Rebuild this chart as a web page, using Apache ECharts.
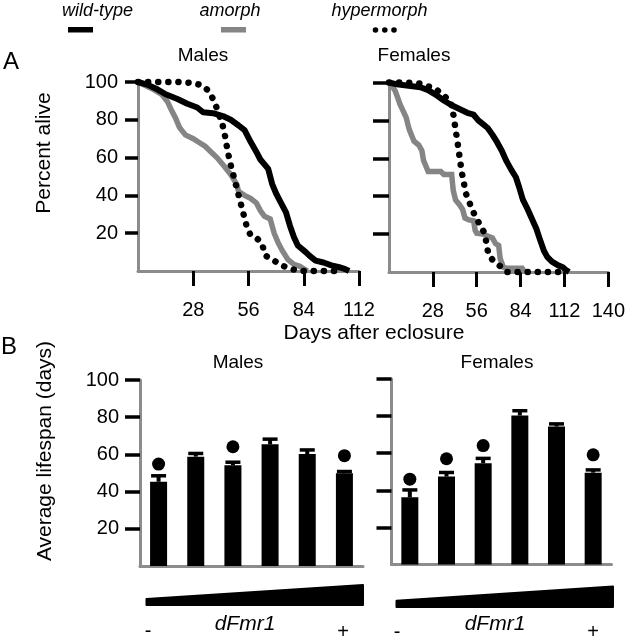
<!DOCTYPE html>
<html>
<head>
<meta charset="utf-8">
<script src="https://cdn.jsdelivr.net/npm/echarts@6/dist/echarts.min.js"></script>
<style>
html,body{margin:0;padding:0;background:#fff;}
#chart{width:628px;height:639px;}
</style>
</head>
<body>
<div id="chart"></div>
<script>
// ---------- DATA ----------
// Panel A: survival curves [day, percent alive]
const maleWildType = [[0,100],[5,98.5],[10,96],[14,93.5],[20,91],[25,88.5],[30,86.5],[33,84],[38,83.5],[43,82],[47,80],[51,77],[54,74.5],[57,68.5],[60,63],[62,59],[66,54],[68,46],[70,41],[72,37],[75,31],[77,24],[79,18],[81,13.5],[85,10],[87,8],[90,5.5],[94,4.5],[98,3],[102,2],[105,1],[107,0]];
const maleAmorph = [[0,100],[4,98],[8,96],[12,93.5],[15,89.5],[17,85],[19,81],[21,76],[24,72],[28,70],[31,68],[34,66],[37,63],[40,60],[44,55],[47,51],[50,46],[51,42],[54,40],[57,38.5],[60,36],[62,32],[64,29],[67,27.5],[69,20],[71,15],[73,11],[76,6],[79,3.5],[82,2.5],[85,0.5],[86,0]];
const maleHypermorph = [[0,100],[10,100],[20,100],[28,99.5],[33,98],[36,95],[38,91],[40,86],[42,80],[43.5,75],[45,66],[46.5,58],[48,52],[50,44],[51.5,38],[53,32],[55,24],[57,19],[60,17.5],[63,14.5],[64,9],[66,7],[69,5.5],[72,3.5],[76,1.5],[80,0.5],[82,0],[104,0]];
const femaleWildType = [[0,100],[5,99],[10,98.5],[20,97.5],[25,96],[30,93.5],[35,90.5],[40,88],[45,86],[50,84],[54,83],[57,80],[60,78],[63,76],[66,72.5],[69,68.5],[72,64],[75,58.5],[78,54],[81,50],[83,45],[85.5,38],[88,34],[91,28.5],[94,23],[96,18],[99,11],[101,8],[104,5.5],[108,3.5],[111,2.5],[113,1],[115,0]];
const femaleAmorph = [[0,100],[2,98],[4,95.5],[6,91],[7,88.5],[9,85],[11,81.5],[12,78],[13,75],[15,71],[16,69],[19,67],[21,64],[22,59],[24,55],[25,53],[33,53],[35,51.5],[40,51.5],[41,43],[42.5,38],[45,35.5],[47,33],[48.5,28.5],[51,27.5],[54,27],[55,22],[56,20.5],[60,20],[61,19],[66,18],[68,15],[70,14],[71,7],[73,2.5],[75,2],[85,2],[86.5,0]];
const femaleHypermorph = [[0,100],[10,100],[20,99.5],[25,98],[30,96.5],[34,93.5],[39,90.5],[40.5,86],[41.5,81],[42.5,75],[43.5,70],[44.5,64],[45.5,58],[46.5,52.5],[47.8,47],[48.8,42],[51,37.5],[53,33],[56,28],[58,25],[61,20.5],[62.5,14],[63.5,9],[66,6.5],[69,4.5],[72,2.3],[75,0],[114,0]];

const maleDayTicks = [28,56,84,112];
const femaleDayTicks = [28,56,84,112,140];
const percentTicks = [20,40,60,80,100];

// Panel B: average lifespan (days) for increasing dFmr1 dosage
const doseLevels = ['d1','d2','d3','d4','d5','d6'];
const maleMeans   = [45.3, 58.8, 54.1, 65.4, 60.2, 49.8];
const maleUpper   = [48.5, 60.5, 55.8, 68.2, 62.4, 50.8];
const maleSig     = [54.8, null, 64.1, null, null, 59.3];
const femaleMeans = [36.2, 47.4, 54.6, 80.3, 74.4, 49.5];
const femaleUpper = [40.2, 49.6, 57.2, 82.9, 75.8, 51.0];
const femaleSig   = [46, 57, 64.1, null, null, 59.1];
const wedgeThickness = [0.3, 1];   // relative thickness at low / high dosage

// ---------- STYLE ----------
const FONT = "'Liberation Sans', Arial, sans-serif";
const GREY_AXIS = '#8c8c8c';
const GREY_LINE = '#858585';

function valueAxisX(grid, max, ticks){
  return {
    type:'value', gridIndex:grid, min:0, max:max, interval:28,
    axisLine:{show:true, lineStyle:{color:GREY_AXIS, width:3}},
    axisTick:{show:true, length:15, customValues:ticks, lineStyle:{color:'#000', width:3}},
    axisLabel:{show:true, customValues:ticks, fontSize:20, color:'#000', fontFamily:FONT, margin:29},
    splitLine:{show:false}
  };
}
function valueAxisY(grid, showLabels, tickLen, margin){
  return {
    type:'value', gridIndex:grid, min:0, max:100, interval:20,
    axisLine:{show:true, lineStyle:{color:GREY_AXIS, width:3}},
    axisTick:{show:true, length:tickLen, customValues:percentTicks, lineStyle:{color:'#000', width:3.5}},
    axisLabel:{show:showLabels, customValues:percentTicks, fontSize:20, color:'#000', fontFamily:FONT, margin:margin},
    splitLine:{show:false}
  };
}
function catAxis(grid){
  return {
    type:'category', gridIndex:grid, data:doseLevels,
    axisLine:{show:true, lineStyle:{color:GREY_AXIS, width:3}},
    axisTick:{show:false}, axisLabel:{show:false}, splitLine:{show:false}
  };
}
function hiddenAxis(grid){
  return {type:'value', gridIndex:grid, min:0, max:1, show:false};
}
function curve(data, grid, kind){
  const s = {type:'line', xAxisIndex:grid, yAxisIndex:grid, data:data, showSymbol:false, symbol:'none', silent:true, animation:false, clip:false};
  if(kind==='wt') s.lineStyle = {color:'#000', width:6, join:'round', opacity:1};
  if(kind==='am') s.lineStyle = {color:GREY_LINE, width:5.5, join:'miter', opacity:1};
  if(kind==='hy') s.lineStyle = {color:'#000', width:6.5, type:[0.1,10], cap:'round', opacity:1};
  s.z = kind==='hy'?4:(kind==='wt'?3:2);
  return s;
}
function bars(means, grid){
  return {type:'bar', xAxisIndex:grid, yAxisIndex:grid, data:means, barWidth:17, itemStyle:{color:'#000', opacity:1}, animation:false, silent:true};
}
function errorBars(means, upper, grid){
  return {
    type:'custom', xAxisIndex:grid, yAxisIndex:grid, animation:false, silent:true, z:5,
    data: means.map((m,i)=>[i, m, upper[i]]),
    renderItem:function(params, api){
      const p0 = api.coord([api.value(0), api.value(1)]);
      const p1 = api.coord([api.value(0), api.value(2)]);
      const w = 15;
      return {type:'group', children:[
        {type:'line', shape:{x1:p0[0], y1:p0[1], x2:p1[0], y2:p1[1]}, style:{stroke:'#000', lineWidth:4}},
        {type:'line', shape:{x1:p1[0]-w/2, y1:p1[1], x2:p1[0]+w/2, y2:p1[1]}, style:{stroke:'#000', lineWidth:3.5}}
      ]};
    }
  };
}
function sigDots(sig, grid){
  const d = [];
  sig.forEach((v,i)=>{ if(v!=null) d.push([i,v]); });
  return {type:'scatter', xAxisIndex:grid, yAxisIndex:grid, data:d, symbol:'circle', symbolSize:13, itemStyle:{color:'#000', opacity:1}, animation:false, silent:true, z:6};
}
function wedge(grid){
  return {
    type:'custom', xAxisIndex:grid, yAxisIndex:grid, animation:false, silent:true,
    data:[[0, wedgeThickness[0], 1, wedgeThickness[1]]],
    renderItem:function(params, api){
      const a = api.coord([api.value(0), 0]);
      const b = api.coord([api.value(0), api.value(1)]);
      const c = api.coord([api.value(2), api.value(3)]);
      const d = api.coord([api.value(2), 0]);
      return {type:'polygon', shape:{points:[a,b,c,d]}, style:{fill:'#000', stroke:'#000', lineWidth:2, lineJoin:'round'}};
    }
  };
}
function txt(text, x, y, size, opts){
  opts = opts || {};
  const font = (opts.italic?'italic ':'') + size + 'px ' + FONT;
  return {
    type:'text', x:x, y:y, rotation:opts.rot||0, silent:true,
    style:{text:text, font:font, fill:'#000', textAlign:'center', textVerticalAlign:'middle', align:'center', verticalAlign:'middle'}
  };
}

const chart = echarts.init(document.getElementById('chart'), null, {renderer:'canvas'});
chart.setOption({
  animation:false,
  backgroundColor:'#fff',
  grid:[
    {left:138, top:82, width:221, height:189},
    {left:389, top:82.5, width:222.7, height:189.5},
    {left:140, top:380, width:223, height:186},
    {left:391.5, top:379, width:220, height:185.5},
    {left:146.5, top:585, width:216.5, height:20},
    {left:396.5, top:586.5, width:216.5, height:20.5}
  ],
  xAxis:[
    valueAxisX(0, 112, maleDayTicks),
    valueAxisX(1, 140, femaleDayTicks),
    catAxis(2), catAxis(3),
    hiddenAxis(4), hiddenAxis(5)
  ],
  yAxis:[
    valueAxisY(0, true, 13, 20),
    valueAxisY(1, false, 16, 20),
    valueAxisY(2, true, 15, 21),
    valueAxisY(3, false, 15, 21),
    hiddenAxis(4), hiddenAxis(5)
  ],
  series:[
    curve(maleAmorph, 0, 'am'),
    curve(maleWildType, 0, 'wt'),
    curve(maleHypermorph, 0, 'hy'),
    curve(femaleAmorph, 1, 'am'),
    curve(femaleWildType, 1, 'wt'),
    curve(femaleHypermorph, 1, 'hy'),
    bars(maleMeans, 2), errorBars(maleMeans, maleUpper, 2), sigDots(maleSig, 2),
    bars(femaleMeans, 3), errorBars(femaleMeans, femaleUpper, 3), sigDots(femaleSig, 3),
    wedge(4), wedge(5)
  ],
  graphic:[
    // legend
    txt('wild-type', 97.5, 11, 18, {italic:true}),
    txt('amorph', 230, 11, 18, {italic:true}),
    txt('hypermorph', 379.5, 11, 18, {italic:true}),
    {type:'rect', shape:{x:68, y:27, width:25, height:5.5}, style:{fill:'#000'}, silent:true},
    {type:'rect', shape:{x:221, y:27, width:25, height:5.5}, style:{fill:GREY_LINE}, silent:true},
    {type:'circle', shape:{cx:375.5, cy:30, r:2.8}, style:{fill:'#000'}, silent:true},
    {type:'circle', shape:{cx:384.8, cy:30, r:2.8}, style:{fill:'#000'}, silent:true},
    {type:'circle', shape:{cx:394, cy:30, r:2.8}, style:{fill:'#000'}, silent:true},
    // panel letters and titles
    txt('A', 11, 62, 24),
    txt('B', 9, 347, 24),
    txt('Males', 203, 56, 19),
    txt('Females', 414, 56, 19),
    txt('Males', 238, 363, 19),
    txt('Females', 497, 363, 19),
    // axis names
    txt('Percent alive', 44, 153, 21, {rot:Math.PI/2}),
    txt('Average lifespan (days)', 45, 451, 21, {rot:Math.PI/2}),
    txt('Days after eclosure', 374, 333, 21),
    // dosage labels
    txt('-', 148, 631, 20),
    txt('dFmr1', 245, 624, 21, {italic:true}),
    txt('+', 343, 632, 20),
    txt('-', 397, 632, 20),
    txt('dFmr1', 495, 624, 21, {italic:true}),
    txt('+', 593, 632, 20)
  ]
});
</script>
</body>
</html>
